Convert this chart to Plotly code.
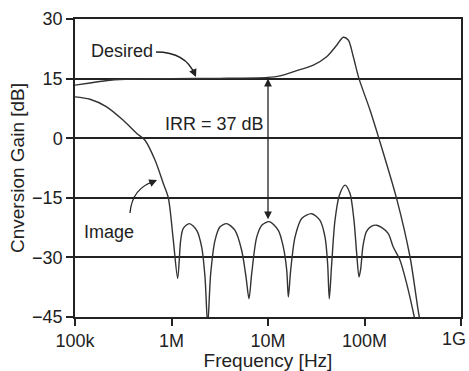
import plotly.graph_objects as go

# ---- data (log10 of frequency in Hz, gain in dB) ----
desired_log10_hz = [5.0, 5.155, 5.363, 5.604, 6.0, 6.5, 7.0, 7.124, 7.297, 7.47, 7.608,
                    7.712, 7.78, 7.832, 7.884, 7.943, 8.057, 8.15, 8.333, 8.472, 8.568, 8.6]
desired_db = [13.35, 13.9, 14.6, 14.9, 15.0, 15.05, 15.3, 15.7, 17.0, 18.4, 20.5,
              23.4, 25.4, 24.7, 20.5, 15.0, 7.1, -0.1, -15.2, -29.9, -45.0, -48.0]

image_log10_hz = [5.0, 5.155, 5.328, 5.5, 5.64, 5.725, 5.829, 5.915, 5.967, 6.019, 6.064,
                  6.095, 6.122, 6.185, 6.261, 6.313, 6.347, 6.375,
                  6.406, 6.451, 6.503, 6.572, 6.658, 6.727, 6.772, 6.803,
                  6.831, 6.883, 6.94, 7.014, 7.107, 7.159, 7.194, 7.211,
                  7.235, 7.28, 7.349, 7.453, 7.539, 7.591, 7.618, 7.635,
                  7.66, 7.694, 7.739, 7.798, 7.85, 7.891, 7.919, 7.943,
                  7.96, 7.985, 8.02, 8.07, 8.126, 8.18, 8.247, 8.298, 8.368, 8.437, 8.516, 8.54]
image_db = [10.4, 9.8, 7.9, 4.5, 1.2, -0.5, -5.5, -11.4, -15.0, -25.7, -35.3,
            -25.7, -22.7, -21.5, -23.2, -27.4, -34.9, -47.0,
            -34.1, -25.7, -22.3, -21.5, -23.2, -28.2, -34.9, -40.4,
            -34.1, -24.9, -21.8, -21.0, -23.2, -27.4, -33.2, -40.0,
            -33.2, -24.9, -20.2, -19.0, -20.7, -24.9, -31.6, -40.4,
            -31.6, -20.7, -14.4, -11.8, -13.9, -20.7, -29.0, -34.9,
            -33.0, -27.0, -23.5, -22.2, -21.9, -22.5, -24.0, -27.4, -30.7, -36.6, -45.0, -48.0]

x_tick_vals = [1e5, 1e6, 1e7, 1e8, 1e9]
x_tick_text = ["100k", "1M", "10M", "100M", "1G"]
y_tick_vals = [-45, -30, -15, 0, 15, 30]

irr_freq_log10 = 7.0
irr_top_db = 15.0
irr_bottom_db = -20.8

# ---- figure ----
FONT = "Liberation Sans, Arial, Helvetica, sans-serif"
INK = "#222222"
W, H = 469, 371
L, R, T, B = 75, 8, 19, 54
PW, PH = W - L - R, H - T - B


def px(x, y):
    """pixel position in the picture -> paper coordinates"""
    return (x - L) / PW, (H - B - y) / PH


fig = go.Figure()
fig.add_trace(go.Scatter(x=[10 ** v for v in desired_log10_hz], y=desired_db, mode="lines",
                         line=dict(color="#333333", width=1.4, shape="spline", smoothing=0.8),
                         hoverinfo="skip", showlegend=False))
fig.add_trace(go.Scatter(x=[10 ** v for v in image_log10_hz], y=image_db, mode="lines",
                         line=dict(color="#333333", width=1.4, shape="spline", smoothing=0.8),
                         hoverinfo="skip", showlegend=False))

shapes = []
# curved leader for "Desired"
a0, a1, a2 = px(156, 52), px(186, 52), px(195, 75)
shapes.append(dict(type="path", xref="paper", yref="paper",
                   path=f"M {a0[0]},{a0[1]} Q {a1[0]},{a1[1]} {a2[0]},{a2[1]}",
                   line=dict(color=INK, width=1.3)))
# curved leader for "Image"
b0, b1, b2 = px(130, 213), px(132, 188), px(155, 181)
shapes.append(dict(type="path", xref="paper", yref="paper",
                   path=f"M {b0[0]},{b0[1]} Q {b1[0]},{b1[1]} {b2[0]},{b2[1]}",
                   line=dict(color=INK, width=1.3)))

annotations = []
for label, (cx, cy) in [("Desired", (122, 51)), ("Image", (109, 232)), ("IRR = 37 dB", (214, 124))]:
    pxx, pyy = px(cx, cy)
    annotations.append(dict(text=label, x=pxx, y=pyy, xref="paper", yref="paper", showarrow=False,
                            xanchor="center", yanchor="middle",
                            font=dict(family=FONT, size=18, color=INK)))
# last x tick label, kept fully inside the picture at its right edge
lx, ly = px(W - 1, 339)
annotations.append(dict(text=x_tick_text[-1], x=lx, y=ly, xref="paper", yref="paper", showarrow=False,
                        xanchor="right", yanchor="middle", font=dict(family=FONT, size=18, color=INK)))
# arrowheads at the ends of the curved leaders
hx, hy = px(196, 77)
annotations.append(dict(text="", x=hx, y=hy, xref="paper", yref="paper", showarrow=True,
                        ax=-4, ay=-9, arrowhead=2, arrowsize=1.2, arrowwidth=1.3, arrowcolor=INK))
hx, hy = px(157, 180)
annotations.append(dict(text="", x=hx, y=hy, xref="paper", yref="paper", showarrow=True,
                        ax=-9, ay=4, arrowhead=2, arrowsize=1.2, arrowwidth=1.3, arrowcolor=INK))
# double-headed IRR arrow
annotations.append(dict(text="", x=irr_freq_log10, y=irr_top_db, xref="x", yref="y",
                        ax=irr_freq_log10, ay=irr_bottom_db, axref="x", ayref="y",
                        showarrow=True, arrowside="end+start", arrowhead=2, startarrowhead=2,
                        arrowsize=1.2, startarrowsize=1.2, arrowwidth=1.3, arrowcolor=INK))

fig.update_layout(
    width=W, height=H,
    margin=dict(l=L, r=R, t=T, b=B, pad=0),
    paper_bgcolor="white", plot_bgcolor="white",
    font=dict(family=FONT, size=18, color=INK),
    shapes=shapes, annotations=annotations,
    xaxis=dict(type="log", range=[5, 9], tickvals=x_tick_vals,
               ticktext=x_tick_text[:-1] + [""],
               ticks="outside", ticklen=7, tickwidth=1.5, tickcolor=INK,
               showline=True, linecolor=INK, linewidth=1.5, mirror=True,
               showgrid=False, zeroline=False, automargin=False,
               tickfont=dict(family=FONT, size=18, color=INK),
               title=dict(text="Frequency [Hz]", font=dict(family=FONT, size=19, color=INK), standoff=4)),
    yaxis=dict(range=[-45, 30], tickvals=y_tick_vals,
               ticks="outside", ticklen=7, tickwidth=1.5, tickcolor=INK,
               showline=True, linecolor=INK, linewidth=1.5, mirror=True,
               showgrid=True, gridcolor=INK, gridwidth=1.5, zeroline=False, automargin=False,
               tickfont=dict(family=FONT, size=18, color=INK),
               title=dict(text="Cnversion Gain [dB]", font=dict(family=FONT, size=19, color=INK), standoff=2)),
)

fig.write_html("out.html")
